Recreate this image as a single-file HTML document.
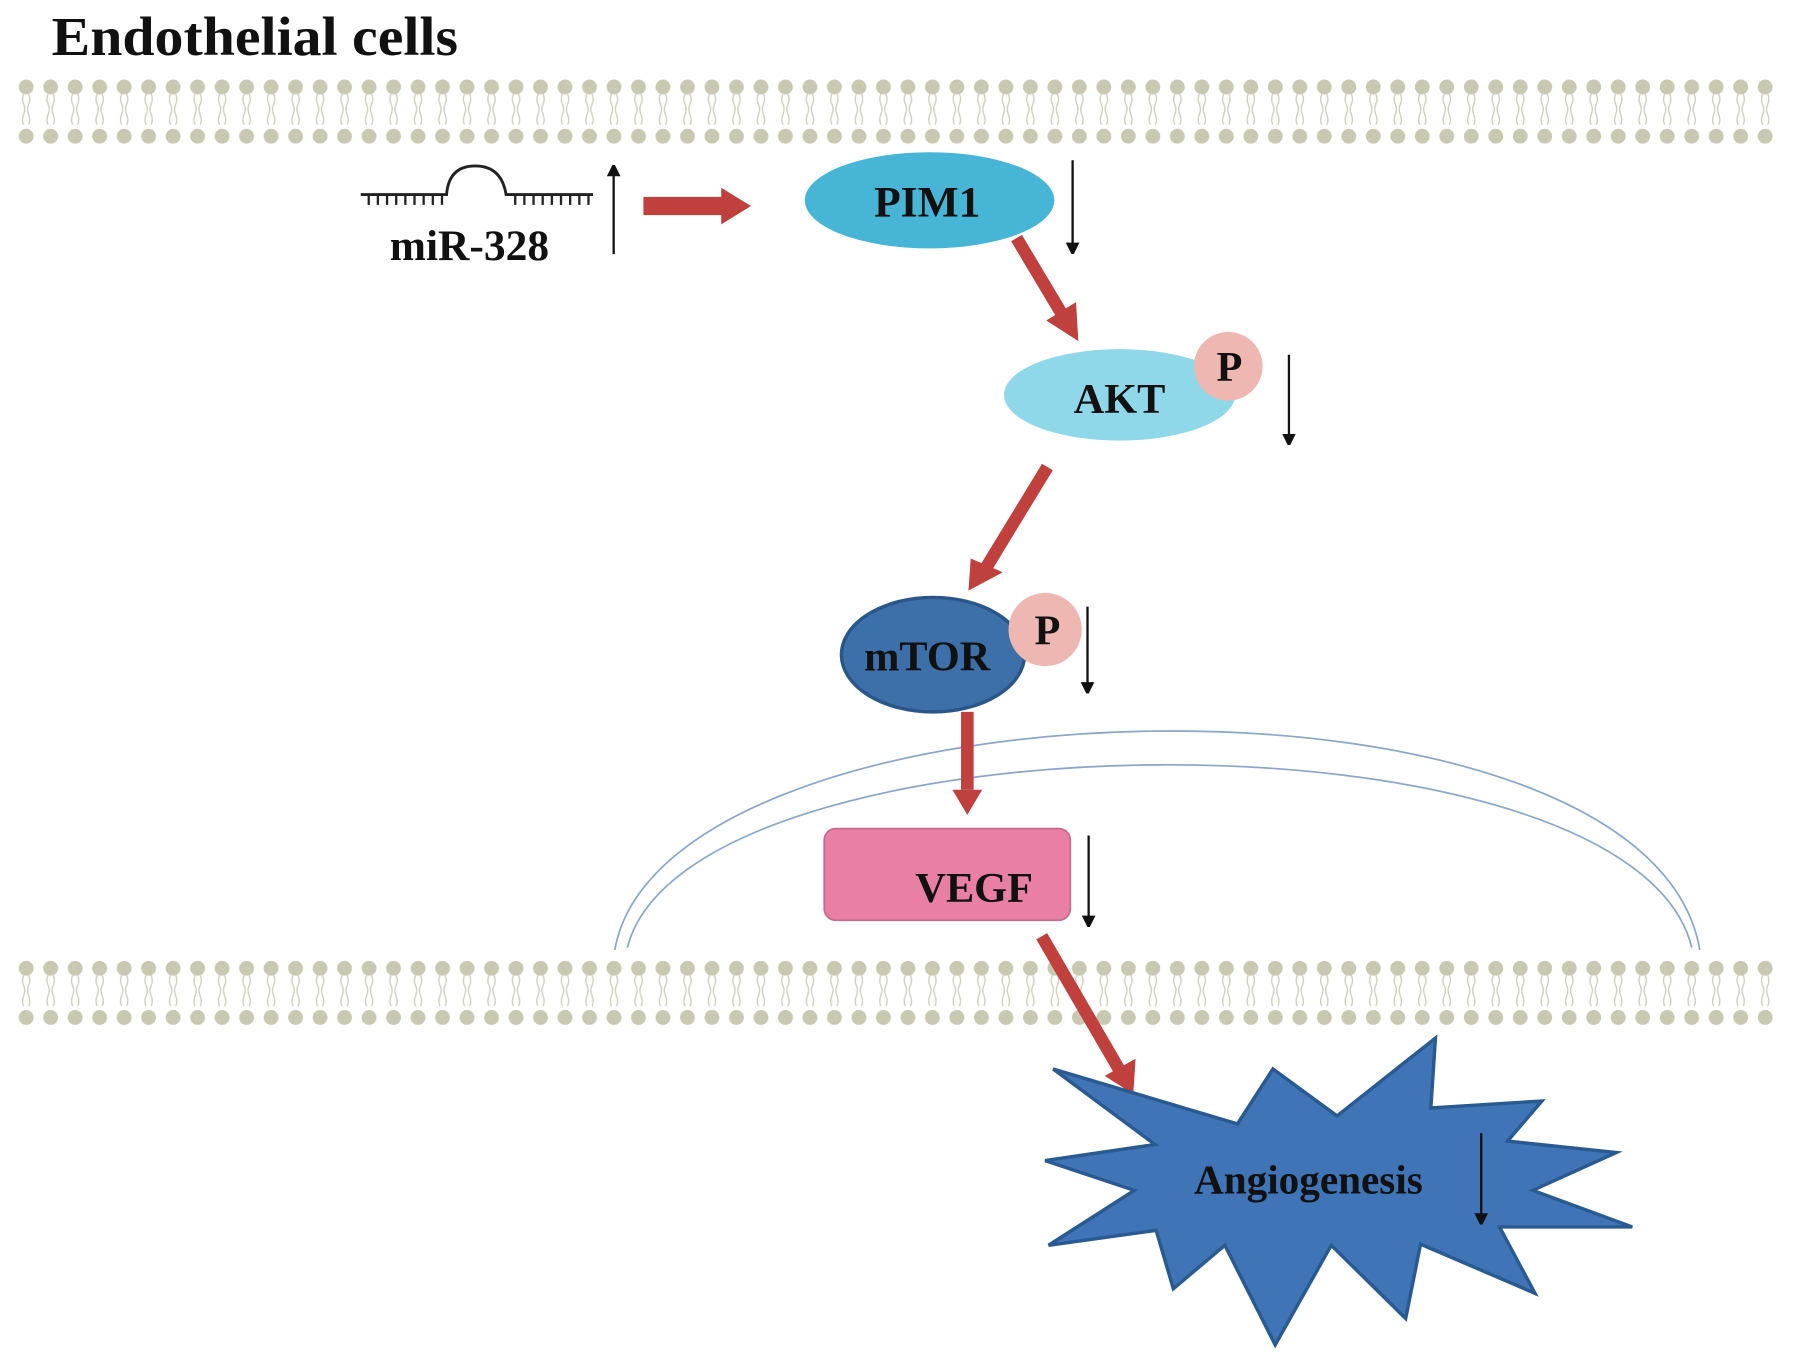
<!DOCTYPE html>
<html><head><meta charset="utf-8"><style>
html,body{margin:0;padding:0;background:#fff;}
svg{display:block;}
text{font-family:"Liberation Serif",serif;font-weight:bold;fill:#111;}
</style></head><body>
<svg width="1795" height="1362" viewBox="0 0 1568 1190" xmlns="http://www.w3.org/2000/svg">
<defs>
<pattern id="lip" x="12" y="0" width="21.4" height="1190" patternUnits="userSpaceOnUse">
  <circle cx="10.7" cy="76" r="6.5" fill="#c9c9b2"/>
  <circle cx="10.7" cy="119" r="6.5" fill="#c9c9b2"/>
  <path d="M8.5 82 q-2 5 0 9 q2 4 0 9 q-2 5 0 9 M12.9 82 q2 5 0 9 q-2 4 0 9 q2 5 0 9" stroke="#cfcfbc" stroke-width="1.2" fill="none"/>
</pattern>
<pattern id="lip2" x="12" y="0" width="21.4" height="1190" patternUnits="userSpaceOnUse">
  <circle cx="10.7" cy="846" r="6.5" fill="#c9c9b2"/>
  <circle cx="10.7" cy="889" r="6.5" fill="#c9c9b2"/>
  <path d="M8.5 852 q-2 5 0 9 q2 4 0 9 q-2 5 0 9 M12.9 852 q2 5 0 9 q-2 4 0 9 q2 5 0 9" stroke="#cfcfbc" stroke-width="1.2" fill="none"/>
</pattern>
<marker id="ah" markerWidth="10" markerHeight="12" refX="6" refY="6" orient="auto" markerUnits="userSpaceOnUse"><path d="M0 0 L12 6 L0 12 Z" fill="#111"/></marker>
</defs>
<text x="45" y="48" font-size="48" textLength="355" lengthAdjust="spacingAndGlyphs">Endothelial cells</text>
<rect x="12" y="66" width="1544" height="64" fill="url(#lip)"/>
<rect x="12" y="836" width="1544" height="64" fill="url(#lip2)"/>

<path d="M537 830 C 580 585, 1440 565, 1485 830" stroke="#8aa6c8" stroke-width="1.5" fill="none"/>
<path d="M548 828 C 600 620, 1425 610, 1478 828" stroke="#8aa6c8" stroke-width="1.5" fill="none"/>

<path d="M315 170 H390 Q392 145 415 145 Q438 145 442 170 H518" stroke="#222" stroke-width="2.5" fill="none"/>
<path d="M322 170v9M330 170v9M338 170v9M346 170v9M354 170v9M362 170v9M370 170v9M378 170v9M386 170v9M450 170v9M458 170v9M466 170v9M474 170v9M482 170v9M490 170v9M498 170v9M506 170v9M514 170v9" stroke="#222" stroke-width="2"/>
<text x="410" y="227" font-size="38" text-anchor="middle">miR-328</text>
<line x1="536" y1="222" x2="536" y2="148" stroke="#111" stroke-width="2" marker-end="url(#ah)"/>

<g fill="#c0403e">
<path d="M562 172 H630 V164 L656 180 L630 196 V188 H562 Z"/>
</g>
<g stroke="#c0403e" stroke-width="11" fill="none">
<line x1="888" y1="208" x2="928" y2="275"/>
<line x1="915" y1="408" x2="862" y2="495"/>
<line x1="845" y1="622" x2="845" y2="690"/>
<line x1="910" y1="818" x2="978" y2="935"/>
</g>
<g fill="#c0403e">
<path d="M914 280 L942 298 L940 264 Z"/>
<path d="M846 516 L876 500 L848 488 Z"/>
<path d="M832 690 L858 690 L845 712 Z"/>
<path d="M990 956 L992 925 L965 940 Z"/>
</g>

<ellipse cx="812" cy="175" rx="109" ry="42" fill="#47b5d6"/>
<text x="810" y="189" font-size="38" text-anchor="middle">PIM1</text>
<line x1="937" y1="140" x2="937" y2="218" stroke="#111" stroke-width="2" marker-end="url(#ah)"/>

<ellipse cx="978" cy="345" rx="101" ry="40" fill="#8fd8e9"/>
<circle cx="1073" cy="320" r="30" fill="#efb7b1"/>
<text x="978" y="361" font-size="37" text-anchor="middle">AKT</text>
<text x="1074" y="333" font-size="37" text-anchor="middle">P</text>
<line x1="1126" y1="310" x2="1126" y2="385" stroke="#111" stroke-width="2" marker-end="url(#ah)"/>

<ellipse cx="815" cy="572" rx="80" ry="50" fill="#3d6fa9" stroke="#2a568a" stroke-width="3"/>
<text x="810" y="586" font-size="37" text-anchor="middle">mTOR</text>
<circle cx="913" cy="550" r="32" fill="#efb7b1"/>
<text x="915" y="563" font-size="37" text-anchor="middle">P</text>
<line x1="950" y1="530" x2="950" y2="602" stroke="#111" stroke-width="2" marker-end="url(#ah)"/>

<rect x="720" y="724" width="215" height="80" rx="10" fill="#ea7fa6" stroke="#c86a8c" stroke-width="1.5"/>
<text x="851" y="788" font-size="37" text-anchor="middle">VEGF</text>
<line x1="951" y1="730" x2="951" y2="806" stroke="#111" stroke-width="2" marker-end="url(#ah)"/>

<polygon points="920,934 1081,982 1112,934 1168,975 1254,907 1250,968 1347,962 1317,997 1412,1007 1339,1040 1426,1072 1310,1072 1341,1130 1241,1087 1228,1152 1163,1088 1114,1175 1070,1088 1025,1126 1010,1075 916,1088 991,1040 913,1014 1009,1000" fill="#3f74b6" stroke="#2a5a92" stroke-width="3" stroke-linejoin="miter"/>
<text x="1143" y="1043" font-size="36" text-anchor="middle">Angiogenesis</text>
<line x1="1294" y1="990" x2="1294" y2="1066" stroke="#111" stroke-width="2" marker-end="url(#ah)"/>
</svg>
</body></html>
